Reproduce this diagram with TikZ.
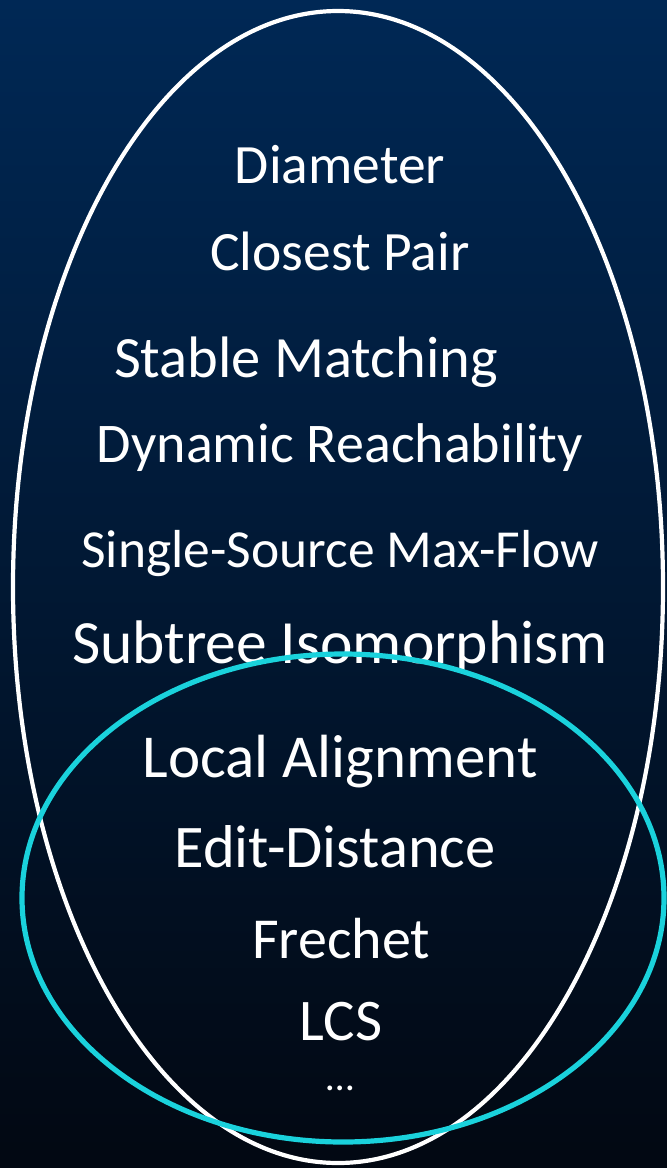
\documentclass[tikz,border=0pt]{standalone}
\usepackage{fontspec}
\setmainfont{Carlito}
\definecolor{bgtop}{RGB}{0,40,85}
\definecolor{bgbot}{RGB}{2,8,18}
\definecolor{cyanring}{RGB}{26,210,220}
\begin{document}
\begin{tikzpicture}[x=1pt,y=-1pt,
  lbl/.style={text=white, inner sep=0pt, anchor=base},
  ringw/.style={draw=white, line width=4.2pt},
  ringc/.style={draw=cyanring, line width=5.2pt}]
\shade[top color=bgtop, bottom color=bgbot] (0,0) rectangle (667,1168);
\useasboundingbox (0,0) rectangle (667,1168);
\draw[ringw] (338,587) ellipse [x radius=325pt, y radius=576pt];
\node[lbl, font=\fontsize{55.5}{60}\selectfont] (dia) at (340,183) {Diameter};
\node[lbl, font=\fontsize{55.5}{60}\selectfont] (cp) at (340,270) {Closest Pair};
\node[lbl, font=\fontsize{58.5}{60}\selectfont] (sm) at (306,377) {Stable Matching};
\node[lbl, font=\fontsize{56}{60}\selectfont] (dr) at (340,462) {Dynamic Reachability};
\node[lbl, font=\fontsize{53.5}{60}\selectfont] (ss) at (340,567) {Single-Source Max-Flow};
\node[lbl, font=\fontsize{61.5}{60}\selectfont] (si) at (340,663) {Subtree Isomorphism};
\node[lbl, font=\fontsize{61}{60}\selectfont] (la) at (340,777) {Local Alignment};
\node[lbl, font=\fontsize{60.5}{60}\selectfont] (ed) at (335,867) {Edit-Distance};
\node[lbl, font=\fontsize{58}{60}\selectfont] (fr) at (341,958) {Frechet};
\node[lbl, font=\fontsize{59}{60}\selectfont] (lcs) at (341,1040) {LCS};
\node[lbl, font=\fontsize{40}{40}\selectfont] (dots) at (340,1090) {\ldots};
\draw[ringc] (343,898) ellipse [x radius=321pt, y radius=244pt];
\end{tikzpicture}
\end{document}
